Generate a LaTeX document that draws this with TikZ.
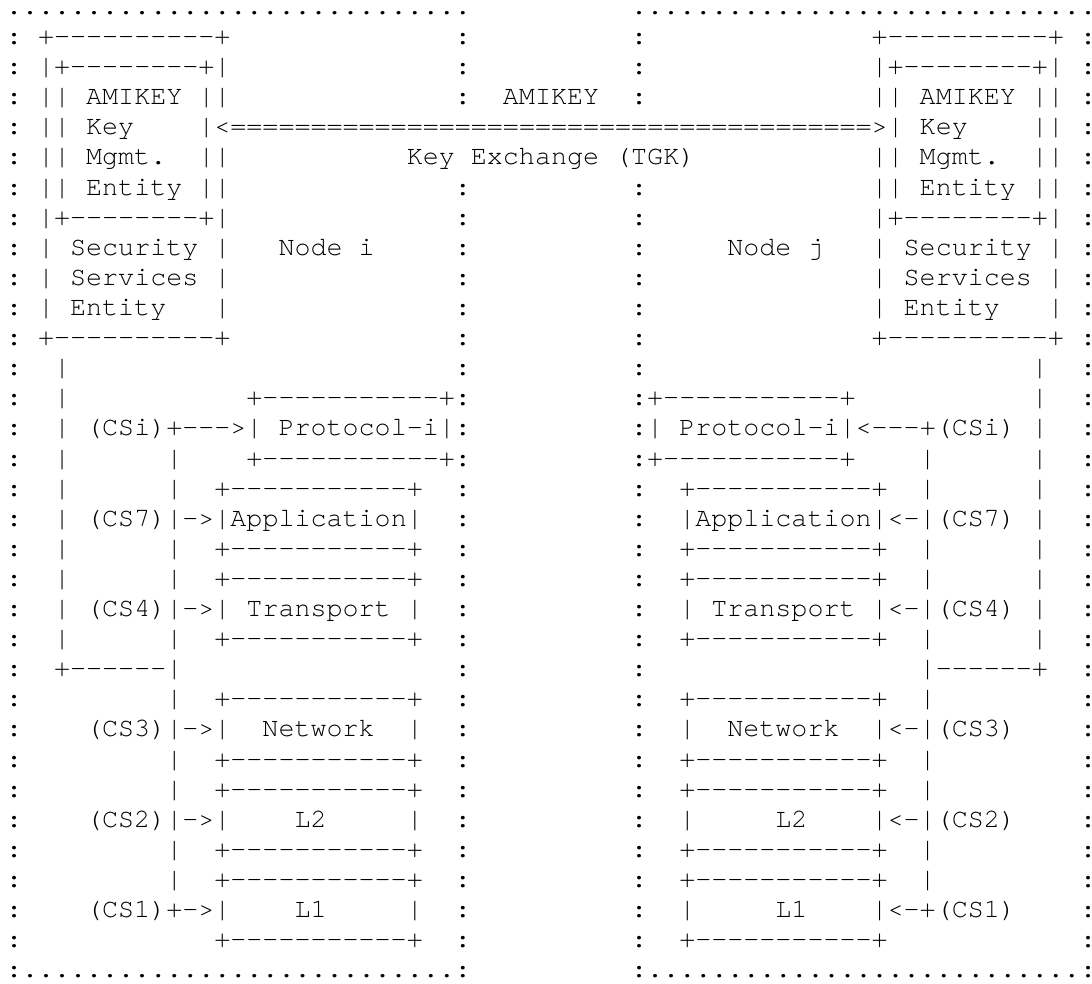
\documentclass[tikz,border=0pt]{standalone}
\usepackage{fontspec}
\newfontfamily\asciifont{TeX Gyre Cursor}
\tikzset{
  glyphs/.style={anchor=base west, inner sep=0pt, outer sep=0pt, text=black,
    font=\asciifont\fontsize{26.72pt}{30pt}\selectfont},
  lowglyph/.style={glyphs, text height=4pt, text depth=0pt}
}
% one run of characters on text row #1, starting at character column #2
\newcommand\seg[3]{\node[glyphs] (s#1-#2) at (#2,#1) {#3};}
% a character in the last column, whose cell is only half inside the page
\newcommand\halfcell[1]{\makebox[8pt][l]{#1}}
\begin{document}
\begin{tikzpicture}
\fill[white] (0,0) rectangle (1092pt,-984pt);
\path[use as bounding box] (0,0) rectangle (1092pt,-984pt);
\begin{scope}[x=16.03pt, y=-30.1pt, shift={(6pt,-14.5pt)}]
  % dotted frames round the two nodes
  \foreach \c in {0,...,28} {
    \node[lowglyph] (topl\c) at (\c,0) {.};
  }
  \foreach \c in {39,...,66} {
    \node[lowglyph] (topr\c) at (\c,0) {.};
  }
  \node[lowglyph] (topr67) at (67,0) {\halfcell{.}};
  \foreach \r in {1,...,32} {
    \node[glyphs] (edgel\r) at (0,\r) {:};
    \node[glyphs] (edger\r) at (67,\r) {\halfcell{:}};
  }
  \foreach \r in {1,2,3,6,7,...,32} {
    \node[glyphs] (innerl\r) at (28,\r) {:};
    \node[glyphs] (innerr\r) at (39,\r) {:};
  }
  \foreach \c in {1,...,27} {
    \node[glyphs] (botl\c) at (\c,32) {.};
    \node[glyphs] (botr\c) at (\c+39,32) {.};
  }

  % key management entities inside the security services entities
  \seg{1}{2}{+----------+}   \seg{1}{54}{+----------+}
  \seg{2}{2}{|+--------+|}   \seg{2}{54}{|+--------+|}
  \seg{3}{2}{|| AMIKEY ||}   \seg{3}{31}{AMIKEY}   \seg{3}{54}{|| AMIKEY ||}
  \seg{4}{2}{||} \seg{4}{5}{Key}
  \seg{4}{12}{|<========================================>|}
  \seg{4}{57}{Key} \seg{4}{64}{||}
  \seg{5}{2}{||} \seg{5}{5}{Mgmt.} \seg{5}{12}{||}
  \seg{5}{25}{Key Exchange (TGK)}
  \seg{5}{54}{||} \seg{5}{57}{Mgmt.} \seg{5}{64}{||}
  \seg{6}{2}{|| Entity ||}   \seg{6}{54}{|| Entity ||}
  \seg{7}{2}{|+--------+|}   \seg{7}{54}{|+--------+|}
  \seg{8}{2}{| Security |}   \seg{8}{17}{Node i}
  \seg{8}{45}{Node j}        \seg{8}{54}{| Security |}
  \seg{9}{2}{| Services |}   \seg{9}{54}{| Services |}
  \seg{10}{2}{|} \seg{10}{4}{Entity} \seg{10}{13}{|}
  \seg{10}{54}{|} \seg{10}{56}{Entity} \seg{10}{65}{|}
  \seg{11}{2}{+----------+}  \seg{11}{54}{+----------+}

  % control lines down to the protocol stack
  \seg{12}{3}{|} \seg{12}{64}{|}
  \seg{13}{3}{|} \seg{13}{15}{+-----------+} \seg{13}{40}{+-----------+} \seg{13}{64}{|}
  \seg{14}{3}{| (CSi)+--->| Protocol-i|}
  \seg{14}{40}{| Protocol-i|<---+(CSi) |}
  \seg{15}{3}{|} \seg{15}{10}{|} \seg{15}{15}{+-----------+}
  \seg{15}{40}{+-----------+} \seg{15}{57}{|} \seg{15}{64}{|}
  \seg{16}{3}{|} \seg{16}{10}{|} \seg{16}{13}{+-----------+}
  \seg{16}{42}{+-----------+} \seg{16}{57}{|} \seg{16}{64}{|}
  \seg{17}{3}{| (CS7)|->|Application|}
  \seg{17}{42}{|Application|<-|(CS7) |}
  \seg{18}{3}{|} \seg{18}{10}{|} \seg{18}{13}{+-----------+}
  \seg{18}{42}{+-----------+} \seg{18}{57}{|} \seg{18}{64}{|}
  \seg{19}{3}{|} \seg{19}{10}{|} \seg{19}{13}{+-----------+}
  \seg{19}{42}{+-----------+} \seg{19}{57}{|} \seg{19}{64}{|}
  \seg{20}{3}{| (CS4)|->| Transport |}
  \seg{20}{42}{| Transport |<-|(CS4) |}
  \seg{21}{3}{|} \seg{21}{10}{|} \seg{21}{13}{+-----------+}
  \seg{21}{42}{+-----------+} \seg{21}{57}{|} \seg{21}{64}{|}
  \seg{22}{3}{+------|}      \seg{22}{57}{|------+}
  \seg{23}{10}{|} \seg{23}{13}{+-----------+} \seg{23}{42}{+-----------+} \seg{23}{57}{|}
  \seg{24}{5}{(CS3)|->|} \seg{24}{16}{Network} \seg{24}{25}{|}
  \seg{24}{42}{|} \seg{24}{45}{Network} \seg{24}{54}{|<-|(CS3)}
  \seg{25}{10}{|} \seg{25}{13}{+-----------+} \seg{25}{42}{+-----------+} \seg{25}{57}{|}
  \seg{26}{10}{|} \seg{26}{13}{+-----------+} \seg{26}{42}{+-----------+} \seg{26}{57}{|}
  \seg{27}{5}{(CS2)|->|} \seg{27}{18}{L2} \seg{27}{25}{|}
  \seg{27}{42}{|} \seg{27}{48}{L2} \seg{27}{54}{|<-|(CS2)}
  \seg{28}{10}{|} \seg{28}{13}{+-----------+} \seg{28}{42}{+-----------+} \seg{28}{57}{|}
  \seg{29}{10}{|} \seg{29}{13}{+-----------+} \seg{29}{42}{+-----------+} \seg{29}{57}{|}
  \seg{30}{5}{(CS1)+->|} \seg{30}{18}{L1} \seg{30}{25}{|}
  \seg{30}{42}{|} \seg{30}{48}{L1} \seg{30}{54}{|<-+(CS1)}
  \seg{31}{13}{+-----------+} \seg{31}{42}{+-----------+}
\end{scope}
\end{tikzpicture}
\end{document}
